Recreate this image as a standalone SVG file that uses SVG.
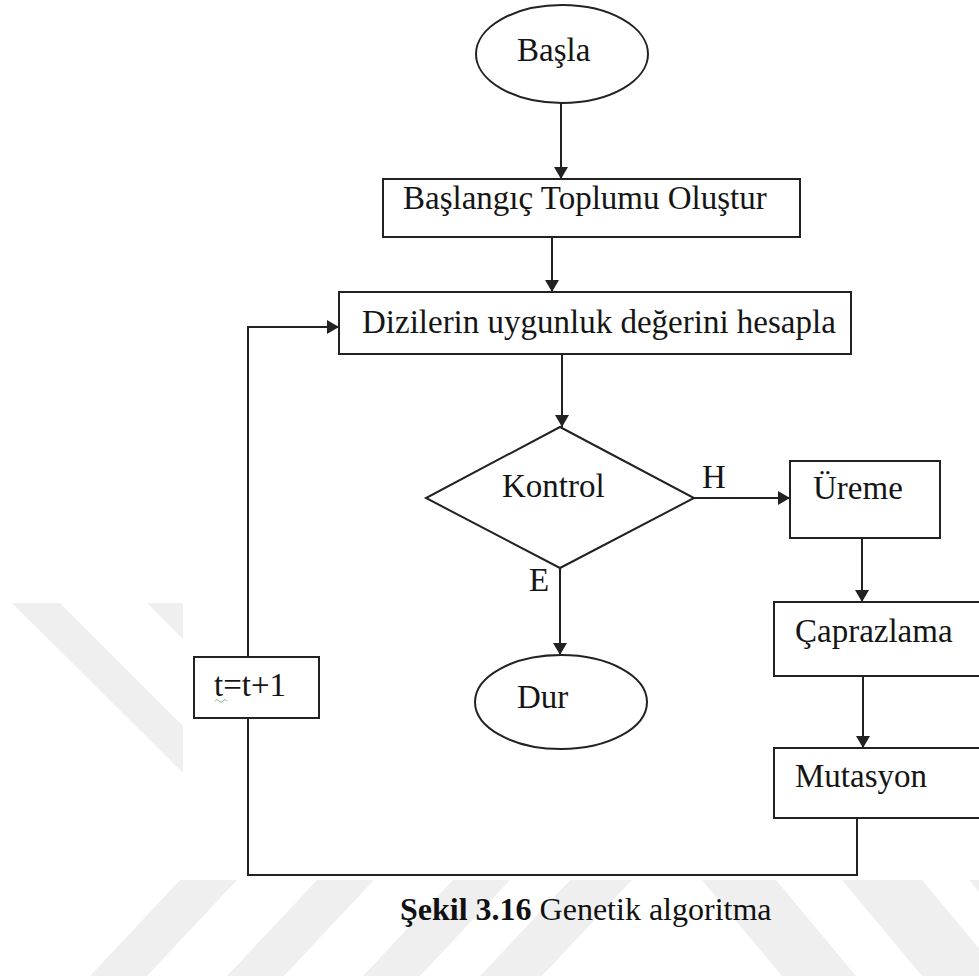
<svg xmlns="http://www.w3.org/2000/svg" width="979" height="976" viewBox="0 0 979 976">
<style>
.shape{fill:#fff;stroke:#222;stroke-width:2}
.conn{fill:none;stroke:#222;stroke-width:2}
.lbl{font-family:"Liberation Serif","Times New Roman",serif;font-size:33px;fill:#151515}
.wm{fill:#efefef;stroke:none}
</style>
<defs>
<marker id="arr" viewBox="0 0 12 14" refX="12" refY="7" markerWidth="12" markerHeight="14" markerUnits="userSpaceOnUse" orient="auto">
<path d="M0,0 L12,7 L0,14 z" fill="#222"/>
</marker>
</defs>
<rect width="979" height="976" fill="#fff"/>
<g id="watermark">
<polygon class="wm" points="12,603 60,603 183,726 183,773"/>
<polygon class="wm" points="147,603 183,603 183,639"/>
<polygon class="wm" points="180,880 237,880 147,976 90,976"/>
<polygon class="wm" points="317,880 374,880 284,976 227,976"/>
<polygon class="wm" points="453,880 510,880 420,976 363,976"/>
<polygon class="wm" points="570,880 632,880 542,976 480,976"/>
<polygon class="wm" points="702,880 776,880 856,976 782,976"/>
<polygon class="wm" points="842,880 922,880 1002,976 922,976"/>
<polygon class="wm" points="969,880 1050,880 1130,976 1049,976"/>
</g>
<g id="connectors">
<line class="conn" x1="561" y1="103" x2="561" y2="179" marker-end="url(#arr)"/>
<line class="conn" x1="552" y1="237" x2="552" y2="292" marker-end="url(#arr)"/>
<line class="conn" x1="562" y1="354" x2="562" y2="427" marker-end="url(#arr)"/>
<line class="conn" x1="694" y1="498" x2="790" y2="498" marker-end="url(#arr)"/>
<line class="conn" x1="560" y1="568" x2="560" y2="655" marker-end="url(#arr)"/>
<line class="conn" x1="862" y1="538" x2="862" y2="602" marker-end="url(#arr)"/>
<line class="conn" x1="863" y1="676" x2="863" y2="748" marker-end="url(#arr)"/>
<polyline class="conn" points="857,818 857,875 248,875 248,718"/>
<polyline class="conn" points="248,657 248,327 339,327" marker-end="url(#arr)"/>
<text class="lbl" x="702" y="488">H</text>
<text class="lbl" x="529" y="591">E</text>
</g>
<g id="basla">
<ellipse class="shape" cx="562" cy="54" rx="86" ry="49"/>
<text class="lbl" x="517" y="61">Başla</text>
</g>
<g id="baslangic">
<rect class="shape" x="383" y="179" width="417" height="58"/>
<text class="lbl" x="403" y="209">Başlangıç Toplumu Oluştur</text>
</g>
<g id="diziler">
<rect class="shape" x="339" y="292" width="512" height="62"/>
<text class="lbl" x="362" y="333">Dizilerin uygunluk değerini hesapla</text>
</g>
<g id="kontrol">
<polygon class="shape" points="560,427 694,498 560,568 426,498"/>
<text class="lbl" x="502" y="497">Kontrol</text>
</g>
<g id="dur">
<ellipse class="shape" cx="561" cy="702" rx="86" ry="47"/>
<text class="lbl" x="517" y="708">Dur</text>
</g>
<g id="ureme">
<rect class="shape" x="790" y="461" width="150" height="77"/>
<text class="lbl" x="813" y="499">Üreme</text>
</g>
<g id="caprazlama">
<rect class="shape" x="774" y="602" width="220" height="74"/>
<text class="lbl" x="795" y="642">Çaprazlama</text>
</g>
<g id="mutasyon">
<rect class="shape" x="774" y="748" width="220" height="70"/>
<text class="lbl" x="795" y="787">Mutasyon</text>
</g>
<g id="t_update">
<rect class="shape" x="194" y="657" width="125" height="61"/>
<text class="lbl" x="214" y="696">t=t+1</text>
<path d="M215,701 q2,-3 4,0 t4,0 t4,0" fill="none" stroke="#7fbf7f" stroke-width="1"/>
</g>
<g id="caption">
<text x="400" y="920" style="font-family:'Liberation Serif','Times New Roman',serif;font-size:32px;fill:#111"><tspan font-weight="bold">Şekil 3.16</tspan> Genetik algoritma</text>
</g>
</svg>
